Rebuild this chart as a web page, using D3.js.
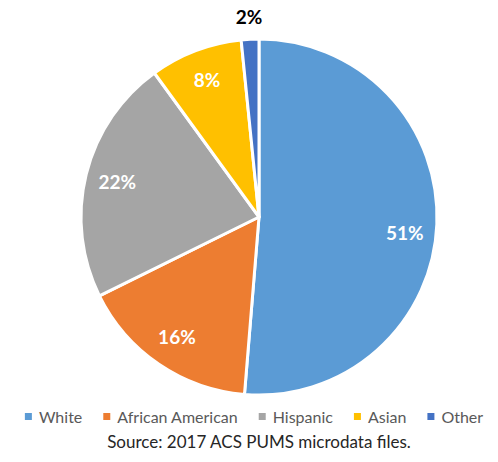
<!DOCTYPE html>
<html>
<head>
<meta charset="utf-8">
<script src="https://cdn.jsdelivr.net/npm/d3@7"></script>
<style>
  body { margin: 0; background: #fff; }
  svg { display: block; font-family: Lato, "Open Sans", sans-serif; }
</style>
</head>
<body>
<div id="chart"></div>
<script>
// data
const categories = ["White", "African American", "Hispanic", "Asian", "Other"];
const shares = [51.3, 16.4, 22.3, 8.4, 1.6];
const colors = ["#5B9BD5", "#ED7D31", "#A5A5A5", "#FFC000", "#4472C4"];
const source = "Source: 2017 ACS PUMS microdata files.";

const width = 498, height = 462;
const cx = 259, cy = 217, radius = 178;

const svg = d3.select("#chart")
    .append("svg")
    .attr("width", width)
    .attr("height", height);

const pie = d3.pie().sort(null).value(d => d.v);
const slices = pie(categories.map((c, i) => ({c: c, v: shares[i], color: colors[i]})));

const arc = d3.arc().innerRadius(0).outerRadius(radius);
const labelArc = d3.arc().innerRadius(146).outerRadius(146);
const outerArc = d3.arc().innerRadius(radius + 22).outerRadius(radius + 22);

const g = svg.append("g").attr("transform", `translate(${cx}, ${cy})`);

g.selectAll("path")
    .data(slices)
    .enter().append("path")
    .attr("d", arc)
    .attr("fill", d => d.data.color)
    .attr("stroke", "#fff")
    .attr("stroke-width", 3)
    .attr("stroke-linejoin", "round");

// percentage labels (small slices go outside, in black)
g.selectAll("text.pct")
    .data(slices)
    .enter().append("text")
    .attr("class", "pct")
    .attr("transform", d => {
        const p = d.data.v < 3 ? outerArc.centroid(d) : labelArc.centroid(d);
        return `translate(${p[0]}, ${p[1] + (d.index === 0 ? 10 : 0)})`;
    })
    .attr("text-anchor", "middle")
    .attr("dy", "0.35em")
    .attr("font-size", 19)
    .attr("font-weight", "bold")
    .attr("fill", d => d.data.v < 3 ? "#000" : "#fff")
    .text(d => Math.round(d.data.v) + "%");

// legend
const legend = svg.append("g").attr("font-size", 16).attr("fill", "#595959");
const items = legend.selectAll("g")
    .data(slices)
    .enter().append("g");

items.append("rect")
    .attr("width", 7)
    .attr("height", 7)
    .attr("y", -4)
    .attr("fill", d => d.data.color);

items.append("text")
    .attr("x", 14)
    .attr("dy", "0.35em")
    .text(d => d.data.c);

let x = 0;
items.each(function() {
    const w = 14 + this.querySelector("text").getComputedTextLength();
    d3.select(this).attr("transform", `translate(${x}, 0)`);
    x += w + 21;
});
const legendWidth = x - 21;
legend.attr("transform", `translate(${254 - legendWidth / 2}, 417)`);

svg.append("text")
    .attr("x", 259)
    .attr("y", 442)
    .attr("dy", "0.35em")
    .attr("text-anchor", "middle")
    .attr("font-size", 17)
    .attr("fill", "#262626")
    .text(source);
</script>
</body>
</html>
